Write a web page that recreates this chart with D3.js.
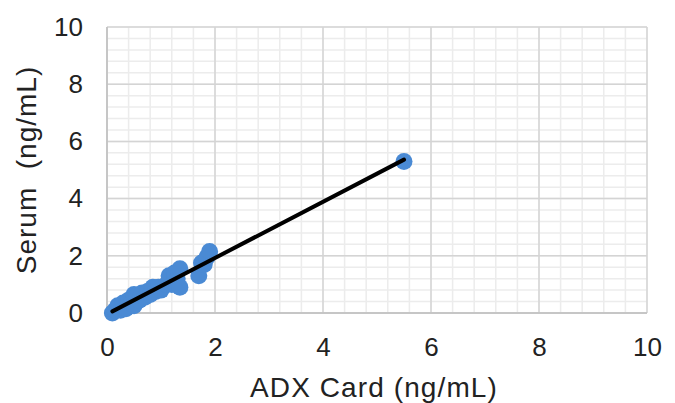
<!DOCTYPE html>
<html>
<head>
<meta charset="utf-8">
<script src="https://cdn.jsdelivr.net/npm/d3@7"></script>
<style>
  body { margin: 0; background: #fff; }
  text { font-family: "Liberation Sans", Arial, sans-serif; fill: #222; }
</style>
</head>
<body>
<svg width="675" height="403"></svg>
<script>
// ADX Card vs Serum readings (ng/mL)
var adx   = [0.1, 0.15, 0.2, 0.25, 0.3, 0.35, 0.4, 0.45, 0.5, 0.5, 0.55, 0.6, 0.65, 0.7, 0.75, 0.8, 0.85, 0.9, 0.95, 1.0, 1.1, 1.15, 1.2, 1.25, 1.3, 1.35, 1.35, 1.7, 1.75, 1.8, 1.85, 1.9, 5.5];
var serum = [0.0, 0.1, 0.25, 0.1, 0.35, 0.15, 0.45, 0.35, 0.25, 0.65, 0.6, 0.45, 0.7, 0.55, 0.75, 0.65, 0.9, 0.75, 0.9, 0.8, 1.0, 1.3, 1.0, 1.4, 1.2, 0.9, 1.55, 1.3, 1.75, 1.7, 1.95, 2.15, 5.3];
var majorTicks = [0, 2, 4, 6, 8, 10];

var svg = d3.select("svg");
var margin = {left: 107, right: 28, top: 27, bottom: 90};
var W = 675, H = 403;

var x = d3.scaleLinear().domain([0, 10]).range([margin.left, W - margin.right]);
var y = d3.scaleLinear().domain([0, 10]).range([H - margin.bottom, margin.top]);

var minor = d3.range(0, 10.001, 0.4);

// minor grid
svg.append("g").selectAll("line").data(minor).enter().append("line")
    .attr("x1", d => x(d)).attr("x2", d => x(d))
    .attr("y1", y(0)).attr("y2", y(10))
    .attr("stroke", "#ececec").attr("stroke-width", 1.5);
svg.append("g").selectAll("line").data(minor).enter().append("line")
    .attr("y1", d => y(d)).attr("y2", d => y(d))
    .attr("x1", x(0)).attr("x2", x(10))
    .attr("stroke", "#ececec").attr("stroke-width", 1.5);

// major grid
svg.append("g").selectAll("line").data(majorTicks).enter().append("line")
    .attr("x1", d => x(d)).attr("x2", d => x(d))
    .attr("y1", y(0)).attr("y2", y(10))
    .attr("stroke", "#d4d4d4").attr("stroke-width", 1.5);
svg.append("g").selectAll("line").data(majorTicks).enter().append("line")
    .attr("y1", d => y(d)).attr("y2", d => y(d))
    .attr("x1", x(0)).attr("x2", x(10))
    .attr("stroke", "#d4d4d4").attr("stroke-width", 1.5);

// axes lines
svg.append("line").attr("x1", x(0)).attr("x2", x(0)).attr("y1", y(0)).attr("y2", y(10))
    .attr("stroke", "#bfbfbf").attr("stroke-width", 1.5);
svg.append("line").attr("x1", x(0)).attr("x2", x(10)).attr("y1", y(0)).attr("y2", y(0))
    .attr("stroke", "#bfbfbf").attr("stroke-width", 1.5);

// tick labels
var xAxis = svg.append("g").attr("transform", "translate(0," + y(0) + ")")
    .call(d3.axisBottom(x).tickValues(majorTicks).tickSize(0).tickPadding(0));
xAxis.select(".domain").remove();
xAxis.selectAll("text").attr("dy", null).attr("y", 43).style("font-size", "26px");

var yAxis = svg.append("g").attr("transform", "translate(" + (x(0) - 24) + ",0)")
    .call(d3.axisLeft(y).tickValues(majorTicks).tickSize(0).tickPadding(0));
yAxis.select(".domain").remove();
yAxis.selectAll("text").style("font-size", "26px");

// data points
var pts = adx.map((d, i) => ({x: d, y: serum[i]}));
svg.append("g").selectAll("circle").data(pts).enter().append("circle")
    .attr("cx", d => x(d.x)).attr("cy", d => y(d.y))
    .attr("r", 8.5).attr("fill", "#4a8ad4");

// linear trendline
var mx = d3.mean(adx), my = d3.mean(serum);
var slope = d3.sum(pts, d => (d.x - mx) * (d.y - my)) / d3.sum(pts, d => (d.x - mx) * (d.x - mx));
var icpt = my - slope * mx;
var ext = d3.extent(adx);
svg.append("path")
    .datum(ext)
    .attr("d", d3.line().x(d => x(d)).y(d => y(icpt + slope * d)))
    .attr("stroke", "#000").attr("stroke-width", 4).attr("stroke-linecap", "round")
    .attr("fill", "none");

// axis titles
svg.append("text").attr("x", (x(0) + x(10)) / 2 - 3).attr("y", 397)
    .attr("text-anchor", "middle")
    .style("font-size", "28px").style("letter-spacing", "1.1px").text("ADX Card (ng/mL)");
svg.append("text").attr("transform", "translate(29," + ((y(0) + y(10)) / 2) + ") rotate(-90)")
    .attr("text-anchor", "middle").attr("dominant-baseline", "middle")
    .style("font-size", "28px").style("letter-spacing", "1px").style("white-space", "pre").text("Serum  (ng/mL)");
</script>
</body>
</html>
